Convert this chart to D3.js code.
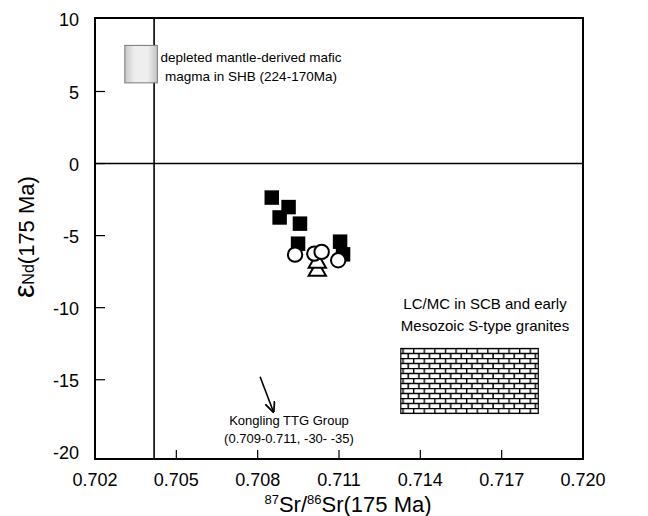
<!DOCTYPE html>
<html lang="en">
<head>
  <meta charset="UTF-8">
  <title>eNd vs 87Sr/86Sr</title>
  <style>
    body { margin: 0; background: #fff; }
    svg { display: block; font-family: "Liberation Sans", Arial, sans-serif; }
    .frame { fill: none; stroke: #000; stroke-width: 2; }
    .ref { stroke: #000; stroke-width: 1.6; }
    .tick { stroke: #000; stroke-width: 1.2; }
    .ticklabel { font-size: 18px; fill: #000; }
    .note { font-size: 13px; fill: #000; }
  </style>
  <script src="https://d3js.org/d3.v7.min.js"></script>
</head>
<body>
<div id="chart"></div>
<script>
  // Data
  var squaresX = [0.70852, 0.70914, 0.70881, 0.70956, 0.70949, 0.71104, 0.71115];
  var squaresY = [-2.36, -3.02, -3.74, -4.17, -5.56, -5.42, -6.3];
  var trianglesX = [0.7102, 0.7102];
  var trianglesY = [-7.43, -6.88];
  var circlesX = [0.70938, 0.71009, 0.71036, 0.71097];
  var circlesY = [-6.32, -6.25, -6.13, -6.71];

  var xTicks = [0.702, 0.705, 0.708, 0.711, 0.714, 0.717, 0.720];
  var yTicks = [10, 5, 0, -5, -10, -15, -20];

  var mantleBox = [0.7031, 0.7043, 5.6, 8.2];       // x0, x1, y0, y1
  var crustBox = [0.71328, 0.71835, -17.34, -12.83];
  var srLine = 0.70418;
  var arrowX = [0.70809, 0.70858];
  var arrowY = [-14.79, -17.22];

  var W = 648, H = 516;
  var margin = { top: 18, right: 65, bottom: 57, left: 95 };
  var width = W - margin.left - margin.right,
      height = H - margin.top - margin.bottom;

  var x = d3.scaleLinear().domain([0.702, 0.720]).range([0, width]);
  var y = d3.scaleLinear().domain([-20.5, 10.1]).range([height, 0]);

  var svg = d3.select("#chart").append("svg")
    .attr("width", W).attr("height", H);

  var defs = svg.append("defs");

  // grey fill for the mantle box, darker at the sides
  var grad = defs.append("linearGradient").attr("id", "grey")
    .attr("x1", "0").attr("x2", "1").attr("y1", "0").attr("y2", "0");
  grad.append("stop").attr("offset", "0").attr("stop-color", "#c8c8c8");
  grad.append("stop").attr("offset", "0.3").attr("stop-color", "#eeeeee");
  grad.append("stop").attr("offset", "0.7").attr("stop-color", "#eeeeee");
  grad.append("stop").attr("offset", "1").attr("stop-color", "#c4c4c4");

  // brick pattern
  var brick = defs.append("pattern").attr("id", "brick")
    .attr("patternUnits", "userSpaceOnUse")
    .attr("width", 10.6).attr("height", 10);
  brick.append("rect").attr("width", 10.6).attr("height", 10).attr("fill", "#fff");
  brick.append("path")
    .attr("d", "M0,0.6H10.6M0,5.6H10.6M0.6,0V5.6M5.9,5.6V10")
    .attr("stroke", "#000").attr("stroke-width", 1.5).attr("fill", "none");

  defs.append("marker").attr("id", "arrow")
    .attr("viewBox", "0 0 10 10").attr("refX", 9).attr("refY", 5)
    .attr("markerWidth", 11).attr("markerHeight", 11)
    .attr("orient", "auto").attr("markerUnits", "userSpaceOnUse")
    .append("path").attr("d", "M0,0.5L10,5L0,9.5").attr("fill", "none")
    .attr("stroke", "#000").attr("stroke-width", 1.6);

  var g = svg.append("g")
    .attr("transform", "translate(" + margin.left + "," + margin.top + ")");

  // reference lines
  g.append("line").attr("class", "ref")
    .attr("x1", 0).attr("x2", width).attr("y1", y(0)).attr("y2", y(0));
  g.append("line").attr("class", "ref")
    .attr("x1", x(srLine)).attr("x2", x(srLine)).attr("y1", 0).attr("y2", height);

  // ticks (inside)
  g.selectAll(".xt").data(xTicks.slice(1, -1)).enter().append("line")
    .attr("class", "tick")
    .attr("x1", function(d) { return x(d); }).attr("x2", function(d) { return x(d); })
    .attr("y1", height).attr("y2", height - 9);
  g.selectAll(".yt").data(yTicks.slice(1, -1)).enter().append("line")
    .attr("class", "tick")
    .attr("x1", 0).attr("x2", 10)
    .attr("y1", function(d) { return y(d); }).attr("y2", function(d) { return y(d); });

  g.selectAll(".xl").data(xTicks).enter().append("text")
    .attr("class", "ticklabel").attr("text-anchor", "middle")
    .attr("x", function(d) { return x(d); }).attr("y", height + 27)
    .text(function(d) { return d3.format(".3f")(d); });
  g.selectAll(".yl").data(yTicks).enter().append("text")
    .attr("class", "ticklabel").attr("text-anchor", "end")
    .attr("x", -16).attr("y", function(d) { return y(d) + 7; })
    .text(function(d) { return d; });

  // source boxes
  g.append("rect")
    .attr("x", x(mantleBox[0])).attr("width", x(mantleBox[1]) - x(mantleBox[0]))
    .attr("y", y(mantleBox[3])).attr("height", y(mantleBox[2]) - y(mantleBox[3]))
    .attr("fill", "url(#grey)").attr("stroke", "#777").attr("stroke-width", 1);
  g.append("rect")
    .attr("x", x(crustBox[0])).attr("width", x(crustBox[1]) - x(crustBox[0]))
    .attr("y", y(crustBox[3])).attr("height", y(crustBox[2]) - y(crustBox[3]))
    .attr("fill", "url(#brick)").attr("stroke", "#000").attr("stroke-width", 1.2);

  // arrow
  g.append("line")
    .attr("x1", x(arrowX[0])).attr("y1", y(arrowY[0]))
    .attr("x2", x(arrowX[1])).attr("y2", y(arrowY[1]))
    .attr("stroke", "#000").attr("stroke-width", 1.6)
    .attr("marker-end", "url(#arrow)");

  // data symbols
  var sq = d3.symbol().type(d3.symbolSquare).size(210);
  var tri = d3.symbol().type(d3.symbolTriangle).size(130);

  g.selectAll(".sq").data(squaresX).enter().append("path")
    .attr("d", sq)
    .attr("transform", function(d, i) { return "translate(" + x(d) + "," + y(squaresY[i]) + ")"; })
    .attr("fill", "#000");
  g.selectAll(".tri").data(trianglesX).enter().append("path")
    .attr("d", tri)
    .attr("transform", function(d, i) { return "translate(" + x(d) + "," + y(trianglesY[i]) + ")"; })
    .attr("fill", "#fff").attr("stroke", "#000").attr("stroke-width", 2);
  g.selectAll(".ci").data(circlesX).enter().append("circle")
    .attr("cx", function(d) { return x(d); })
    .attr("cy", function(d, i) { return y(circlesY[i]); })
    .attr("r", 7.2)
    .attr("fill", "#fff").attr("stroke", "#000").attr("stroke-width", 2);

  // frame
  g.append("rect").attr("class", "frame").attr("width", width).attr("height", height);

  // annotations
  function note(lines, cx, cy, size, dy) {
    var t = g.append("text").attr("class", "note").attr("text-anchor", "middle")
      .style("font-size", size + "px");
    lines.forEach(function(s, i) {
      t.append("tspan").attr("x", cx - margin.left).attr("y", cy - margin.top + i * dy).text(s);
    });
  }
  note(["depleted mantle-derived mafic", "magma in SHB (224-170Ma)"], 251, 62, 13.5, 19);
  note(["LC/MC in SCB and early", "Mesozoic S-type granites"], 485, 309, 15, 22);
  note(["Kongling TTG Group", "(0.709-0.711, -30- -35)"], 289, 425, 13, 18);

  // axis titles
  var xt = svg.append("text").attr("text-anchor", "middle")
    .attr("x", 348).attr("y", 512).style("font-size", "22px");
  xt.append("tspan").style("font-size", "13px").attr("dy", -8).text("87");
  xt.append("tspan").attr("dy", 8).text("Sr/");
  xt.append("tspan").style("font-size", "13px").attr("dy", -8).text("86");
  xt.append("tspan").attr("dy", 8).text("Sr(175 Ma)");

  var yt = svg.append("text").attr("transform", "translate(34,298) rotate(-90)")
    .attr("text-anchor", "start");
  yt.append("tspan").style("font-size", "30px").text("\u03B5");
  yt.append("tspan").style("font-size", "16px").text("Nd");
  yt.append("tspan").style("font-size", "22px").text("(175 Ma)");
</script>
</body>
</html>
